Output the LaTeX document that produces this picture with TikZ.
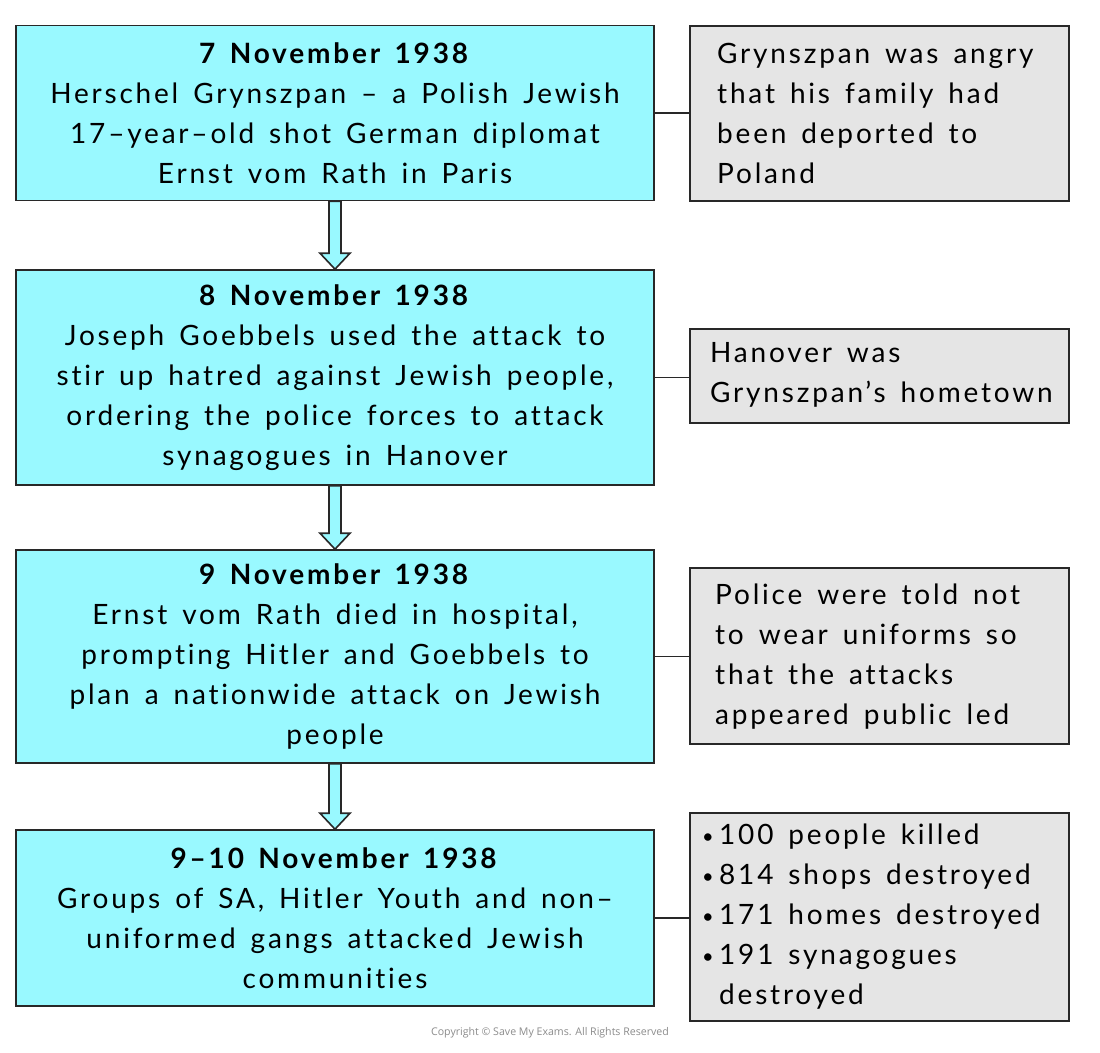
\documentclass[tikz,border=0pt]{standalone}
\usepackage{fontspec}
\newfontfamily\hand{Lato}[LetterSpace=10,WordSpace=1.5,RawFeature=-liga]
\newfontfamily\copyfont{Open Sans}
\usetikzlibrary{calc}
\definecolor{boxcyan}{RGB}{153,249,255}
\definecolor{boxgrey}{RGB}{229,229,229}
\definecolor{edge}{RGB}{40,40,40}
\tikzset{
  lbox/.style={draw=edge, line width=1.6pt, fill=boxcyan, minimum width=638pt, align=center, inner sep=0pt,
    font=\hand\fontsize{28}{40}\selectfont},
  rbox/.style={draw=edge, line width=1.6pt, fill=boxgrey, minimum width=379pt, inner sep=0pt},
  rtext/.style={anchor=west, align=left, inner sep=0pt, font=\hand\fontsize{28}{40}\selectfont},
  link/.style={draw=edge, line width=1.6pt},
  barrow/.style={draw=edge, line width=1.6pt, fill=boxcyan, line join=miter},
}
\newcommand\blockarrow[2]{%
  \path[barrow] ($(#1.south)+(-6,0)$) -- ($(#2.north)+(-6,-16)$) -- ++(-9,0) -- (#2.north)
    -- ($(#2.north)+(15,-16)$) -- ++(-9,0) -- ($(#1.south)+(6,0)$) -- cycle;}
\newcommand\bul{\makebox[17pt][l]{\raisebox{1pt}{\fontsize{20}{20}\selectfont •}}}
\begin{document}
\begin{tikzpicture}[x=1pt,y=-1pt]
\useasboundingbox (0,0) rectangle (1100,1052);
\fill[white] (0,0) rectangle (1100,1052);
% left boxes
\node[lbox, minimum height=175pt] (b1) at (335,113) {\textbf{7 November 1938}\\Herschel Grynszpan – a Polish Jewish\\17–year–old shot German diplomat\\Ernst vom Rath in Paris};
\node[lbox, minimum height=215pt] (b2) at (335,377.5) {\textbf{8 November 1938}\\Joseph Goebbels used the attack to\\stir up hatred against Jewish people,\\ordering the police forces to attack\\synagogues in Hanover};
\node[lbox, minimum height=213pt] (b3) at (335,656.5) {\textbf{9 November 1938}\\Ernst vom Rath died in hospital,\\prompting Hitler and Goebbels to\\plan a nationwide attack on Jewish\\people};
\node[lbox, minimum height=176pt] (b4) at (335,918) {\textbf{9–10 November 1938}\\Groups of SA, Hitler Youth and non–\\uniformed gangs attacked Jewish\\communities};
% arrows
\blockarrow{b1}{b2}
\blockarrow{b2}{b3}
\blockarrow{b3}{b4}
% right boxes
\node[rbox, minimum height=175pt] (r1) at (879.5,113.5) {};
\node[rbox, minimum height=94pt] (r2) at (879.5,376) {};
\node[rbox, minimum height=176pt] (r3) at (879.5,656) {};
\node[rbox, minimum height=208pt] (r4) at (879.5,917) {};
\node[rtext] (t1) at (717,113.5) {Grynszpan was angry\\that his family had\\been deported to\\Poland};
\node[rtext] (t2) at (710,375) {Hanover was\\Grynszpan’s hometown};
\node[rtext] (t3) at (715,657) {Police were told not\\to wear uniforms so\\that the attacks\\appeared public led};
\node[rtext] (t4) at (702,917) {\bul100 people killed\\\bul814 shops destroyed\\\bul171 homes destroyed\\\bul191 synagogues\\\makebox[17pt][l]{}destroyed};
% links
\draw[link] (b1.east) -- (b1.east -| r1.west);
\draw[link] (b2.east) -- (b2.east -| r2.west);
\draw[link] (b3.east) -- (b3.east -| r3.west);
\draw[link] (b4.east) -- (b4.east -| r4.west);
% copyright
\node[text=black!45, font=\copyfont\fontsize{10.6}{12}\selectfont, inner sep=0pt] (copy) at (550,1033) {Copyright © Save My Exams. All Rights Reserved};
\end{tikzpicture}
\end{document}
